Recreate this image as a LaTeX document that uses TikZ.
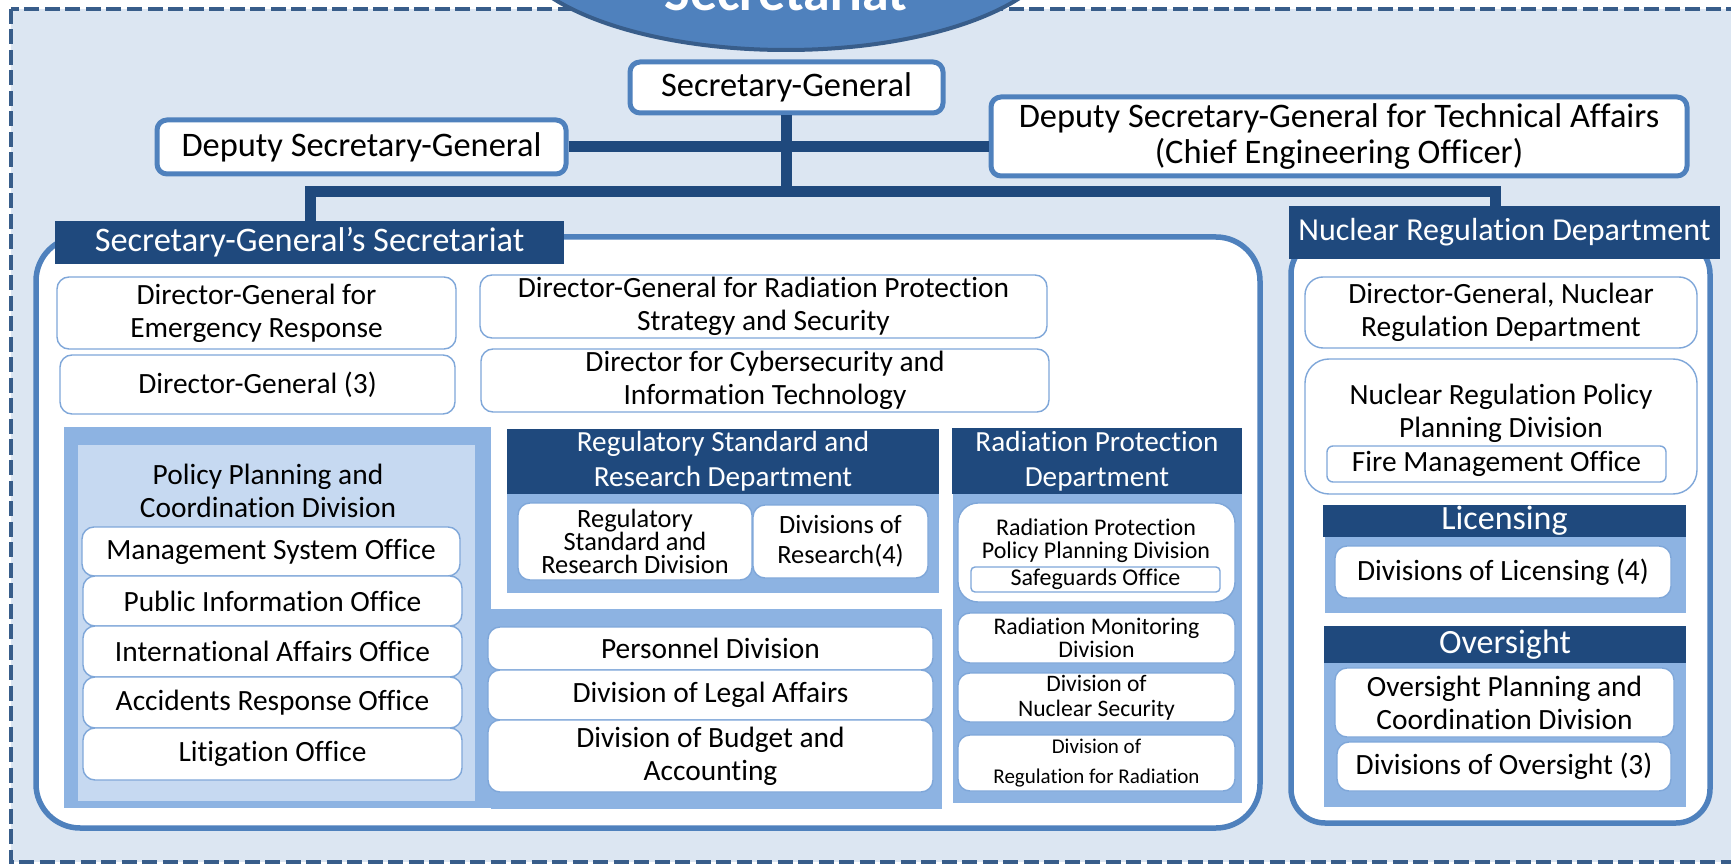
\documentclass[tikz,border=0pt]{standalone}
\usepackage{fontspec}
\setmainfont[Ligatures=NoCommon]{Carlito}
\usetikzlibrary{calc,shapes.geometric}
\definecolor{bgblue}{HTML}{DCE6F2}
\definecolor{dashblue}{HTML}{385D8A}
\definecolor{midblue}{HTML}{4F81BD}
\definecolor{darkblue}{HTML}{1F497D}
\definecolor{grpblue}{HTML}{8DB3E2}
\definecolor{lightgrp}{HTML}{C6D9F1}
\definecolor{thinborder}{HTML}{7FA7D9}
\newcommand\fs[2]{\fontsize{#1pt}{#2pt}\selectfont}
\newcommand\nb[7]{\node[#6, minimum width={(#4-#2)*0.5pt}, minimum height={(#5-#3)*0.5pt}] (#1) at ({(#2+#4)/2},{(#3+#5)/2}) {#7};}
\tikzset{
  topbox/.style={draw=midblue, line width=2.5pt, fill=white, rounded corners=5pt, inner sep=0pt, align=center, font=\fs{17.2}{18}},
  unit/.style={draw=thinborder, line width=0.7pt, fill=white, rounded corners=6pt, inner sep=0pt, align=center, font=\fs{14.7}{16.5}},
  body/.style={inner sep=0pt, align=center, font=\fs{14.7}{16.5}},
  hdr/.style={fill=darkblue, text=white, inner sep=0pt, align=center},
  grp/.style={fill=grpblue, inner sep=0pt},
  container/.style={draw=midblue, line width=2.75pt, fill=white, rounded corners=22pt, inner sep=0pt},
  conn/.style={draw=darkblue, line width=5.5pt}
}
\begin{document}
\begin{tikzpicture}[x=0.5pt, y=-0.5pt]
\clip (0,0) rectangle (1731,866);
% background and dashed frame
\fill[bgblue] (11,9) rectangle (1745,862);
\draw[dashblue, line width=2pt, dash pattern=on 7.5pt off 2.75pt] (11,9) rectangle (1745,862);
% title ellipse
\node[ellipse, draw=dashblue, line width=2pt, fill=midblue, minimum width=275pt, minimum height=110pt, inner sep=0pt] (secr) at (786,-60) {};
\node[font=\bfseries\fs{27}{27}, text=white, anchor=base, inner sep=0pt] (sectxt) at (786,11) {Secretariat};
% top boxes
\nb{sg}{630}{62}{943}{113}{topbox}{Secretary-General}
\nb{dsg}{157}{120}{566}{174}{topbox}{Deputy Secretary-General}
\nb{dsgt}{991}{97}{1687}{176}{topbox}{Deputy Secretary-General for Technical Affairs\\(Chief Engineering Officer)}
% Secretariat container
\nb{ssc}{36}{237}{1260}{828}{container}{}
\nb{ssh}{55}{221}{564}{264}{hdr, font=\fs{17.2}{18}}{Secretary-General’s Secretariat}
\nb{dger}{57}{277}{456}{349}{unit}{Director-General for\\Emergency Response}
\nb{dg3}{60}{355}{455}{414}{unit}{Director-General (3)}
\nb{dgrp}{480}{275}{1047}{338}{unit}{Director-General for Radiation Protection\\Strategy and Security}
\nb{dcit}{481}{349}{1049}{412}{unit}{Director for Cybersecurity and\\Information Technology}
% policy planning group
\nb{ppo}{64}{427}{491}{808}{grp}{}
\nb{ppb}{491}{609}{942}{809}{grp}{}
\nb{ppi}{78}{445}{475}{801}{fill=lightgrp, inner sep=0pt}{}
\node[body] (ppt) at (268,491) {Policy Planning and\\Coordination Division};
\nb{mso}{82}{527}{460}{576}{unit}{Management System Office}
\nb{pio}{83}{576}{462}{626}{unit}{Public Information Office}
\nb{iao}{83}{626}{462}{677}{unit}{International Affairs Office}
\nb{aro}{83}{677}{462}{728}{unit}{Accidents Response Office}
\nb{lit}{83}{728}{462}{780}{unit}{Litigation Office}
\nb{pd}{488}{627}{933}{670}{unit}{Personnel Division}
\nb{dla}{488}{670}{933}{720}{unit}{Division of Legal Affairs}
\nb{dba}{488}{720}{933}{792}{unit}{Division of Budget and\\Accounting}
% regulatory standard and research
\nb{rsb}{507}{494}{939}{593}{grp}{}
\nb{rsh}{507}{429}{939}{494}{hdr, font=\fs{14.6}{17.5}}{Regulatory Standard and\\Research Department}
\nb{rsd}{518}{503}{752}{580}{unit, font=\fs{13.2}{11.6}}{Regulatory\\Standard and\\Research Division}
\nb{dor}{753}{505}{928}{578}{unit, font=\fs{13.2}{15}}{Divisions of\\Research(4)}
% radiation protection
\nb{rpb}{953}{494}{1242}{803}{grp}{}
\nb{rph}{952}{428}{1242}{494}{hdr, font=\fs{14.6}{17.5}}{Radiation Protection\\Department}
\nb{rpp}{958}{503}{1235}{602}{unit, rounded corners=10pt}{}
\node[body, font=\fs{12}{11.7}] (rppt) at (1096,541) {Radiation Protection\\Policy Planning Division};
\nb{sgo}{971}{567}{1220}{592}{unit, rounded corners=2pt, font=\fs{12}{12}}{Safeguards Office}
\nb{rmd}{958}{613}{1235}{663}{unit, font=\fs{11.9}{11.7}}{Radiation Monitoring\\Division}
\nb{dns}{958}{673}{1235}{722}{unit, font=\fs{11.8}{12.5}}{Division of\\Nuclear Security}
\nb{drr}{958}{735}{1235}{791}{unit, font=\fs{10.5}{15}}{Division of\\Regulation for Radiation}
% nuclear regulation department
\nb{nrc}{1291}{240}{1710}{823}{container, rounded corners=17pt}{}
\nb{nrdh}{1289}{206}{1720}{259}{hdr, font=\fs{16}{18}}{Nuclear Regulation Department}
\nb{dgnr}{1305}{277}{1697}{348}{unit, rounded corners=9pt}{Director-General, Nuclear\\Regulation Department}
\nb{nrpp}{1305}{359}{1697}{494}{unit, rounded corners=12pt}{}
\node[body] (nrppt) at (1501,413) {Nuclear Regulation Policy\\Planning Division};
\nb{fmo}{1327}{446}{1666}{482}{unit, rounded corners=3pt}{Fire Management Office}
\nb{licb}{1325}{537}{1686}{613}{grp}{}
\nb{lich}{1323}{505}{1686}{537}{hdr, font=\fs{17}{18}}{Licensing}
\nb{dol}{1335}{546}{1671}{598}{unit}{Divisions of Licensing (4)}
\nb{ovb}{1324}{663}{1686}{807}{grp}{}
\nb{ovh}{1324}{626}{1686}{663}{hdr, font=\fs{17}{18}}{Oversight}
\nb{opc}{1335}{668}{1674}{737}{unit}{Oversight Planning and\\Coordination Division}
\nb{doo}{1337}{742}{1671}{791}{unit}{Divisions of Oversight (3)}
% connectors
\coordinate (barL) at (310,192);
\coordinate (barR) at (1495,192);
\draw[conn] (dsg.east) -- (dsg.east -| dsgt.west);
\draw[conn] (sg.south) -- (sg.south |- barL);
\draw[conn] (barL |- ssh.north) -- (barL) -- (barR) -- (barR |- nrdh.north);
\end{tikzpicture}
\end{document}
